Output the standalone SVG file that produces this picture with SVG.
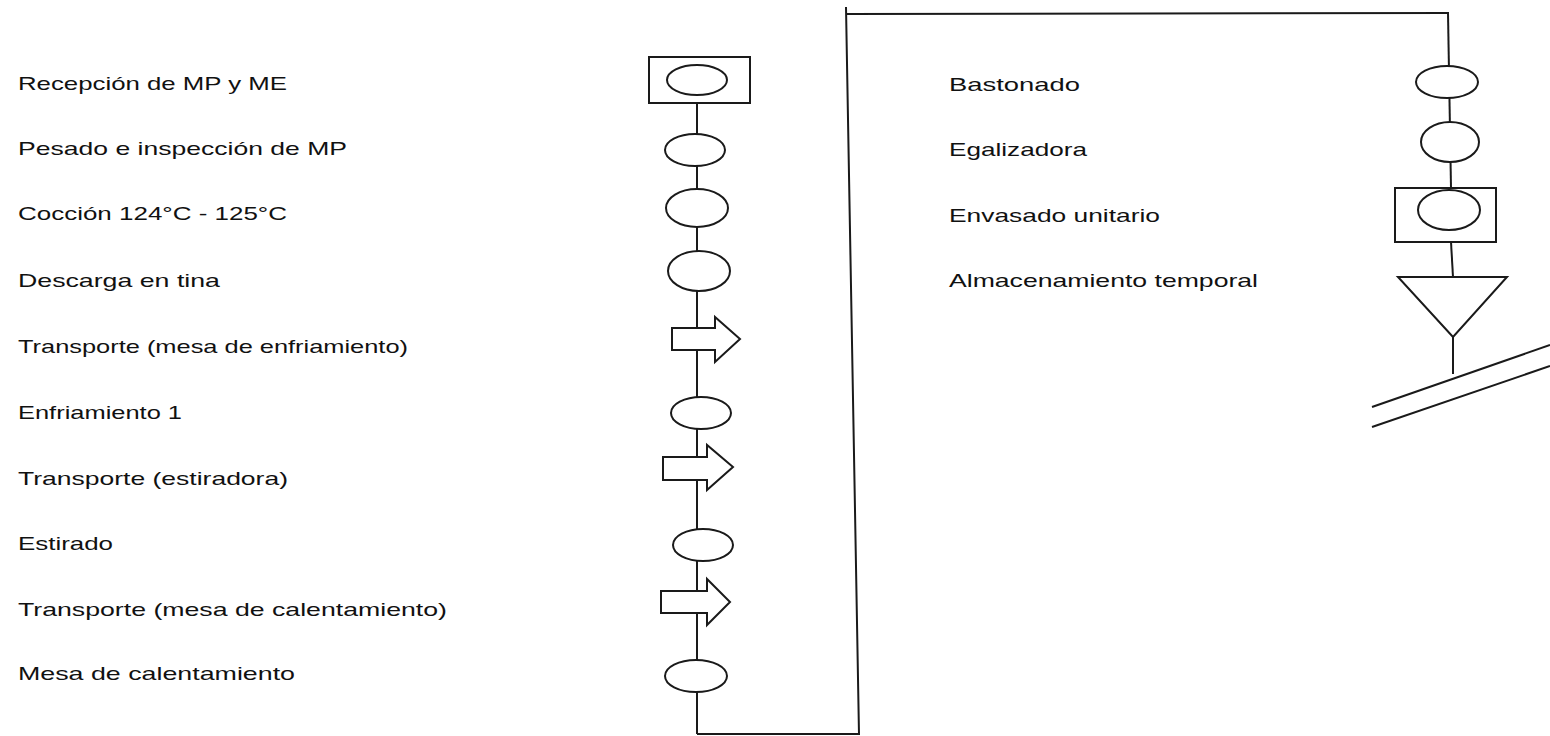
<svg xmlns="http://www.w3.org/2000/svg" width="1550" height="736" viewBox="0 0 1550 736">
<style>
.s{fill:#fff;stroke:#1a1a1a;stroke-width:2}
.c{fill:none;stroke:#1a1a1a;stroke-width:2}
text{font-family:"Liberation Sans",Arial,sans-serif;font-size:19px;fill:#111}
</style>
<rect width="1550" height="736" fill="#fff"/>
<g id="connectors">
<line class="c" x1="697" y1="103" x2="697" y2="734"/>
<polyline class="c" points="697,734 859,734 846,7"/>
<polyline class="c" points="846,14 1449,13"/>
<line class="c" x1="1448" y1="13" x2="1451" y2="188"/>
<line class="c" x1="1451" y1="242" x2="1453" y2="277"/>
<line class="c" x1="1453" y1="337" x2="1453" y2="374"/>
<line class="c" x1="1372" y1="407" x2="1550" y2="345"/>
<line class="c" x1="1372" y1="427" x2="1550" y2="366"/>
</g>
<g id="n1"><rect class="s" x="649" y="57" width="101" height="46"/><ellipse class="s" cx="697" cy="80" rx="30" ry="15"/><text x="18" y="90" textLength="269" lengthAdjust="spacingAndGlyphs">Recepción de MP y ME</text></g>
<g id="n2"><ellipse class="s" cx="695" cy="150" rx="30" ry="16"/><text x="18" y="155" textLength="329" lengthAdjust="spacingAndGlyphs">Pesado e inspección de MP</text></g>
<g id="n3"><ellipse class="s" cx="697" cy="208" rx="31" ry="19"/><text x="18" y="220" textLength="269" lengthAdjust="spacingAndGlyphs">Cocción  124°C - 125°C</text></g>
<g id="n4"><ellipse class="s" cx="699" cy="271" rx="31" ry="20"/><text x="18" y="287" textLength="202" lengthAdjust="spacingAndGlyphs">Descarga en tina</text></g>
<g id="n5"><polygon class="s" points="672,328 715,328 715,317 740,339 715,362 715,350 672,350"/><text x="18" y="353" textLength="390" lengthAdjust="spacingAndGlyphs">Transporte (mesa de enfriamiento)</text></g>
<g id="n6"><ellipse class="s" cx="701" cy="413" rx="30" ry="16"/><text x="18" y="419" textLength="164" lengthAdjust="spacingAndGlyphs">Enfriamiento 1</text></g>
<g id="n7"><polygon class="s" points="663,457 707,457 707,445 733,467 707,490 707,480 663,480"/><text x="18" y="485" textLength="270" lengthAdjust="spacingAndGlyphs">Transporte (estiradora)</text></g>
<g id="n8"><ellipse class="s" cx="703" cy="545" rx="30" ry="16"/><text x="18" y="550" textLength="95" lengthAdjust="spacingAndGlyphs">Estirado</text></g>
<g id="n9"><polygon class="s" points="661,591 707,591 707,579 730,602 707,625 707,613 661,613"/><text x="18" y="616" textLength="429" lengthAdjust="spacingAndGlyphs">Transporte (mesa de calentamiento)</text></g>
<g id="n10"><ellipse class="s" cx="696" cy="676" rx="31" ry="16"/><text x="18" y="680" textLength="277" lengthAdjust="spacingAndGlyphs">Mesa de calentamiento</text></g>
<g id="n11"><ellipse class="s" cx="1447" cy="82" rx="31" ry="16"/><text x="949" y="91" textLength="131" lengthAdjust="spacingAndGlyphs">Bastonado</text></g>
<g id="n12"><ellipse class="s" cx="1450" cy="142" rx="29" ry="20"/><text x="949" y="156" textLength="138" lengthAdjust="spacingAndGlyphs">Egalizadora</text></g>
<g id="n13"><rect class="s" x="1395" y="188" width="101" height="54"/><ellipse class="s" cx="1449" cy="210" rx="31" ry="20"/><text x="949" y="222" textLength="211" lengthAdjust="spacingAndGlyphs">Envasado unitario</text></g>
<g id="n14"><polygon class="s" points="1398,277 1507,277 1453,337"/><text x="949" y="287" textLength="309" lengthAdjust="spacingAndGlyphs">Almacenamiento temporal</text></g>
</svg>
